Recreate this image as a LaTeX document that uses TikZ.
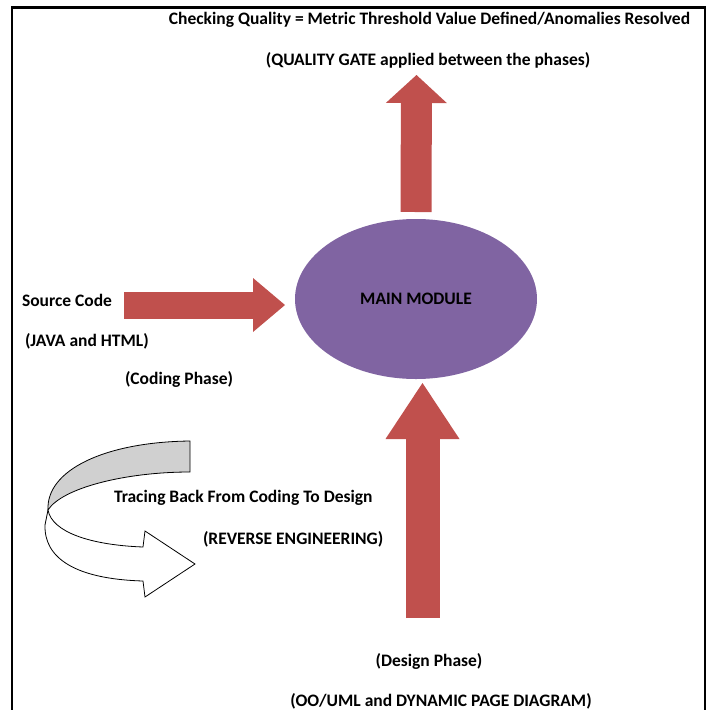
\documentclass[tikz,border=0pt]{standalone}
\usepackage{fontspec}
\setmainfont{Carlito}
\usetikzlibrary{arrows.meta,shapes.geometric}
\definecolor{arrowred}{HTML}{C0504D}
\definecolor{modpurple}{HTML}{8064A2}
\definecolor{ribbongray}{HTML}{D0D0D0}

\begin{document}
\begin{tikzpicture}[x=1pt,y=-1pt,inner sep=0pt,outer sep=0pt,
    every node/.style={font=\bfseries\fontsize{17.5}{20}\selectfont},
    lefttxt/.style={anchor=west},
    phase/.style={draw=arrowred,line width=#1}]
    \useasboundingbox (0,0) rectangle (710,710);
    % frame
    \draw[line width=2.5pt] (12,720) -- (12,7.5) -- (705,7.5) -- (705,720);

    % main module
    \node[ellipse,fill=modpurple,minimum width=242pt,minimum height=160pt] (main) at (416,299) {MAIN MODULE};

    % quality gate
    \node (checkq) at (429.5,20) {Checking Quality = Metric Threshold Value Defined/Anomalies Resolved};
    \node (gatetxt) at (428,60) {(QUALITY GATE applied between the phases)};
    \coordinate (gate) at (416.5,75);
    \draw[phase=31pt,-{Triangle[length=28pt,width=61pt,line width=0pt]}]
      ([yshift=7pt]main.north) -- (gate);

    % coding phase
    \node[lefttxt] (src) at (22,300) {Source Code};
    \node[lefttxt] (srclang) at (25,341) {(JAVA and HTML)};
    \node[lefttxt] (coding) at (125,379) {(Coding Phase)};
    \coordinate (srctail) at (124,305);
    \draw[phase=27pt,-{Triangle[length=32pt,width=54pt,line width=0pt]},shorten >=10pt]
      (srctail) -- (srctail -| main.west);

    % design phase
    \coordinate (designtail) at (422.5,618);
    \draw[phase=34pt,-{Triangle[length=56pt,width=74pt,line width=0pt]},shorten >=4pt]
      (designtail) -- (designtail |- main.south);
    \node (design) at (429,661) {(Design Phase)};
    \node (designuml) at (441,701) {(OO/UML and DYNAMIC PAGE DIAGRAM)};

    % reverse engineering ribbon
    \filldraw[fill=ribbongray,line width=0.8pt]
      (190,441) .. controls (105,442) and (46,470) .. (48,510)
      .. controls (62,488) and (125,472) .. (190,472) -- cycle;
    \filldraw[fill=white,line width=0.8pt]
      (48,510) .. controls (52,532) and (90,545) .. (143,547) -- (145,531) -- (195,564)
      -- (145,597) -- (143,581) .. controls (75,579) and (44,558) .. (45,525) -- cycle;
    \node[lefttxt] (tracing) at (114,498) {Tracing Back From Coding To Design};
    \node[lefttxt] (reverse) at (203,539) {(REVERSE ENGINEERING)};
\end{tikzpicture}
\end{document}
